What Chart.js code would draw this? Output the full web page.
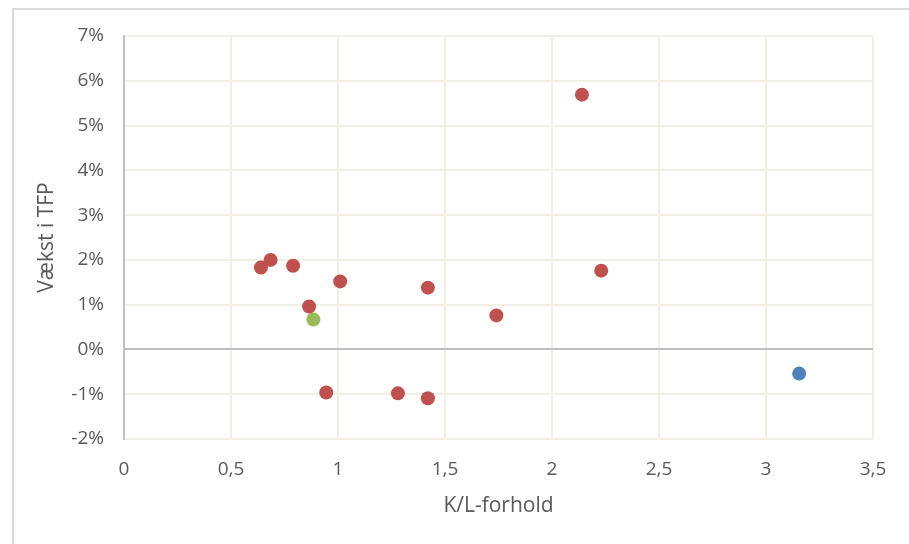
<!DOCTYPE html>
<html>
<head>
<meta charset="utf-8">
<script src="https://cdn.jsdelivr.net/npm/chart.js@4/dist/chart.umd.min.js"></script>
<style>
  html, body { margin: 0; padding: 0; background: #fff; }
  #wrap { width: 909px; height: 544px; position: relative; }
</style>
</head>
<body>
<div id="wrap"><canvas id="chart"></canvas></div>
<script>
// K/L-forhold (x) og vækst i TFP i procent (y)
const redKL  = [0.64, 0.685, 0.79, 0.865, 1.01, 1.42, 1.74, 2.14, 2.23, 0.945, 1.28, 1.42];
const redTFP = [1.83, 2.00, 1.87, 0.96, 1.52, 1.38, 0.76, 5.69, 1.76, -0.96, -0.98, -1.09];
const greenKL  = [0.885];
const greenTFP = [0.67];
const blueKL  = [3.155];
const blueTFP = [-0.54];

const xTicks = [0, 0.5, 1, 1.5, 2, 2.5, 3, 3.5];
const yTicks = [-2, -1, 0, 1, 2, 3, 4, 5, 6, 7];

const pts = (xs, ys) => xs.map((x, i) => ({ x, y: ys[i] }));
const font = { family: "'Open Sans', sans-serif", size: 19 };
const titleFont = { family: "'Open Sans', sans-serif", size: 21 };
const grey = "#595959";

const frame = {
  id: "frame",
  beforeDraw(c) {
    const g = c.ctx;
    g.save();
    g.fillStyle = "#fff";
    g.fillRect(0, 0, c.width, c.height);
    g.strokeStyle = "#d9d9d9";
    g.lineWidth = 2;
    g.strokeRect(13, 9, 920, 560);
    g.restore();
  }
};

const ds = (label, data, color) => ({
  label, data,
  backgroundColor: color, borderColor: color, borderWidth: 0,
  pointRadius: 7, pointHoverRadius: 7
});

new Chart(document.getElementById("chart").getContext("2d"), {
  type: "scatter",
  data: {
    datasets: [
      ds("Lande", pts(redKL, redTFP), "#c0504d"),
      ds("Grøn", pts(greenKL, greenTFP), "#9bbb59"),
      ds("Blå", pts(blueKL, blueTFP), "#4f81bd")
    ]
  },
  plugins: [frame],
  options: {
    responsive: true,
    maintainAspectRatio: false,
    animation: false,
    events: [],
    layout: { padding: { left: 12, top: 36, right: 36, bottom: 0 } },
    plugins: { legend: { display: false }, tooltip: { enabled: false } },
    scales: {
      x: {
        type: "linear", min: 0, max: 3.5,
        afterBuildTicks: s => { s.ticks = xTicks.map(v => ({ value: v })); },
        afterFit: s => { s.height = 105; },
        grid: { color: "#f2f0e6", lineWidth: 2, drawTicks: false },
        border: { display: false },
        ticks: {
          color: grey, font, padding: 19, maxRotation: 0,
          callback: v => String(v).replace(".", ",")
        },
        title: { display: true, text: "K/L-forhold", color: grey, font: titleFont, padding: { bottom: 25 } }
      },
      y: {
        type: "linear", min: -2, max: 7,
        afterBuildTicks: s => { s.ticks = yTicks.map(v => ({ value: v })); },
        afterFit: s => { s.width = 112; },
        grid: {
          drawTicks: false,
          color: c => c.tick && c.tick.value === 0 ? "#bfbfbf" : "#f2f0e6",
          lineWidth: 2
        },
        border: { display: true, color: "#bfbfbf", width: 2 },
        ticks: { color: grey, font, padding: 20, callback: v => v + "%" },
        title: { display: true, text: "Vækst i TFP", color: grey, font: titleFont, padding: { top: 22 } }
      }
    }
  }
});
</script>
</body>
</html>
